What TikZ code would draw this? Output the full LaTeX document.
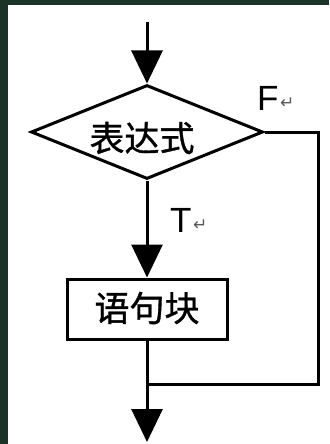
\documentclass[tikz,border=0pt]{standalone}
\usepackage{fontspec}
\setmainfont{Liberation Sans}
\newfontfamily\cjk[FakeBold=1]{Noto Sans CJK SC}
\newfontfamily\symf{DejaVu Sans}
\usetikzlibrary{shapes.geometric,arrows.meta}
\definecolor{frame}{HTML}{1C3327}
\tikzset{
  flow/.style={line width=3pt},
  arr/.style={flow,-{Triangle[width=31pt,length=33pt]}},
  cjktext/.style={font=\cjk\fontsize{35}{40}\selectfont,inner sep=0pt},
  lbl/.style={font=\fontsize{35}{38}\selectfont,inner sep=0pt,anchor=base west},
  ret/.style={font=\symf\fontsize{17}{18}\selectfont,text=gray!70!black,inner sep=0pt,anchor=base west},
  decision/.style={diamond,draw,flow,minimum width=232pt,minimum height=94pt,inner sep=0pt},
  block/.style={rectangle,draw,flow,minimum width=160pt,minimum height=60pt,inner sep=0pt}
}
\begin{document}
\begin{tikzpicture}[x=1pt,y=-1pt]
\useasboundingbox (0,0) rectangle (329,444);
\fill[frame] (0,0) rectangle (329,444);
\fill[white] (8,5) rectangle (329,444);
\coordinate (start) at (147,22);
\node[decision] (d) at (147,132) {};
\node[cjktext] (dt) at (142,138) {表达式};
\node[block] (b) at (147,309) {};
\node[cjktext] (bt) at (147,308) {语句块};
\coordinate (fr) at (318,384);
\coordinate (merge) at (147,384);
\coordinate (end) at (147,442);
\draw[arr] (start) -- (d.north);
\draw[arr] (d.south) -- (b.north);
\draw[flow] (b.south) -- (merge);
\draw[arr] (merge) -- (end);
\draw[flow] (d.east) -| (fr) -- (merge);
\node[lbl] (fl) at (257,110) {F};
\node[ret] (fr1) at (280,108) {↵};
\node[lbl] (tl) at (170,232) {T};
\node[ret] (tr1) at (193,230) {↵};
\end{tikzpicture}
\end{document}
